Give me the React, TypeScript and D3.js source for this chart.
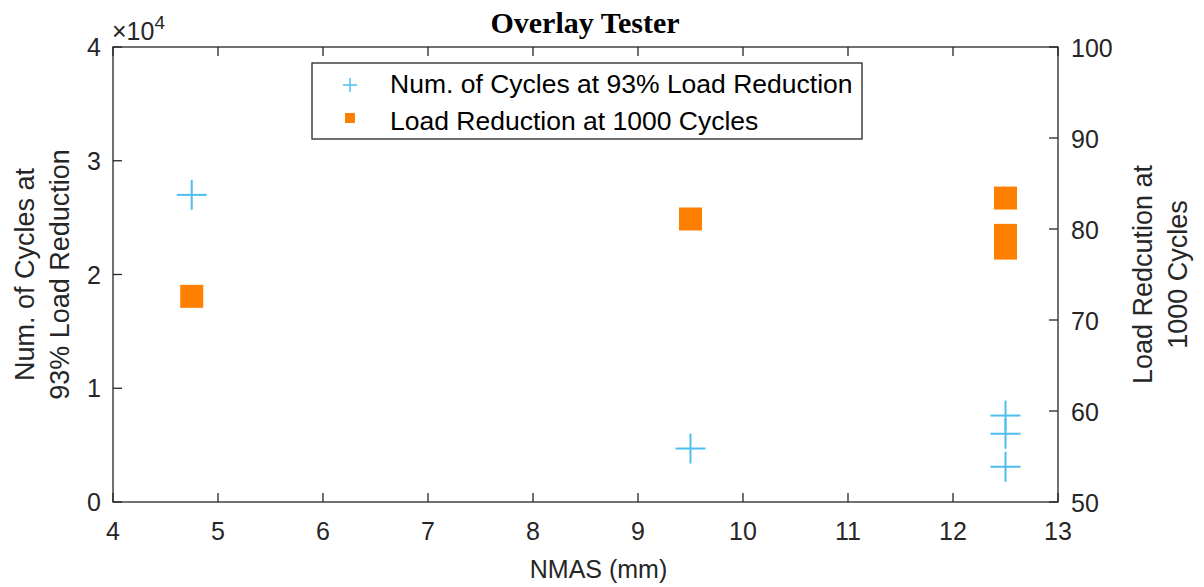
import React from "react";
import * as d3 from "d3";

// NMAS sizes (mm) for each mix
const nmasCycles = [4.75, 9.5, 12.5, 12.5, 12.5];
// Number of cycles to reach 93% load reduction
const cyclesAt93 = [27000, 4700, 7600, 6000, 3100];

const nmasLoad = [4.75, 9.5, 12.5, 12.5, 12.5];
// Load reduction (%) at 1000 cycles
const loadAt1000 = [72.6, 81.1, 83.4, 79.3, 77.9];

const xTicks = [4, 5, 6, 7, 8, 9, 10, 11, 12, 13];
const yLeftTicks = [0, 1, 2, 3, 4];
const yRightTicks = [50, 60, 70, 80, 90, 100];

const W = 1204;
const H = 587;
const M = { left: 113, right: 1058, top: 47, bottom: 502 };

const AXIS = "#262626";
const BLUE = "#4DBEEE";
const ORANGE = "#FF7F00";
const SANS = "'Liberation Sans', Arial, sans-serif";
const SERIF = "'Liberation Serif', 'Times New Roman', serif";

export default function App() {
  const x = d3.scaleLinear().domain([4, 13]).range([M.left, M.right]);
  const yL = d3.scaleLinear().domain([0, 40000]).range([M.bottom, M.top]);
  const yR = d3.scaleLinear().domain([50, 100]).range([M.bottom, M.top]);
  const tick = 9;
  const plus = 15;
  const sq = 11.5;
  const tickFont = 25;
  const labelFont = 27;
  const legendFont = 26.5;

  return (
    <svg
      width={W}
      height={H}
      style={{ position: "absolute", left: 0, top: 0, background: "#fff" }}
      fontFamily={SANS}
    >
      {/* title */}
      <text x={585} y={33} textAnchor="middle" fontFamily={SERIF} fontWeight="bold" fontSize={30} fill="#000">
        Overlay Tester
      </text>

      {/* exponent label */}
      <text x={112} y={40} fontSize={25} fill={AXIS}>
        ×10
        <tspan dy={-11} fontSize={19}>4</tspan>
      </text>

      {/* axes box */}
      <rect
        x={M.left}
        y={M.top}
        width={M.right - M.left}
        height={M.bottom - M.top}
        fill="none"
        stroke={AXIS}
        strokeWidth={1.3}
      />

      {/* x ticks */}
      {xTicks.map((t) => (
        <g key={"x" + t}>
          <line x1={x(t)} x2={x(t)} y1={M.bottom} y2={M.bottom - tick} stroke={AXIS} strokeWidth={1.3} />
          <line x1={x(t)} x2={x(t)} y1={M.top} y2={M.top + tick} stroke={AXIS} strokeWidth={1.3} />
          <text x={x(t)} y={M.bottom + 38} textAnchor="middle" fontSize={tickFont} fill={AXIS}>
            {t}
          </text>
        </g>
      ))}

      {/* left ticks */}
      {yLeftTicks.map((t) => (
        <g key={"yl" + t}>
          <line x1={M.left} x2={M.left + tick} y1={yL(t * 10000)} y2={yL(t * 10000)} stroke={AXIS} strokeWidth={1.3} />
          <text x={M.left - 12} y={yL(t * 10000) + 9} textAnchor="end" fontSize={tickFont} fill={AXIS}>
            {t}
          </text>
        </g>
      ))}

      {/* right ticks */}
      {yRightTicks.map((t) => (
        <g key={"yr" + t}>
          <line x1={M.right} x2={M.right - tick} y1={yR(t)} y2={yR(t)} stroke={AXIS} strokeWidth={1.3} />
          <text x={M.right + 13} y={yR(t) + 10} textAnchor="start" fontSize={tickFont} fill={AXIS}>
            {t}
          </text>
        </g>
      ))}

      {/* axis labels */}
      <text x={(M.left + M.right) / 2 + 13} y={578} textAnchor="middle" fontSize={tickFont} fill={AXIS}>
        NMAS (mm)
      </text>
      <g transform={`translate(25, ${(M.top + M.bottom) / 2}) rotate(-90)`}>
        <text x={0} y={9} textAnchor="middle" fontSize={labelFont} fill={AXIS}>
          Num. of Cycles at
        </text>
        <text x={0} y={44} textAnchor="middle" fontSize={labelFont} fill={AXIS}>
          93% Load Reduction
        </text>
      </g>
      <g transform={`translate(1143, ${(M.top + M.bottom) / 2}) rotate(-90)`}>
        <text x={0} y={9} textAnchor="middle" fontSize={labelFont} fill={AXIS}>
          Load Redcution at
        </text>
        <text x={0} y={44} textAnchor="middle" fontSize={labelFont} fill={AXIS}>
          1000 Cycles
        </text>
      </g>

      {/* load reduction squares */}
      {nmasLoad.map((n, i) => (
        <rect
          key={"s" + i}
          x={x(n) - sq}
          y={yR(loadAt1000[i]) - sq}
          width={sq * 2}
          height={sq * 2}
          fill={ORANGE}
        />
      ))}

      {/* cycles pluses */}
      {nmasCycles.map((n, i) => {
        const cx = x(n);
        const cy = yL(cyclesAt93[i]);
        return (
          <g key={"p" + i} stroke={BLUE} strokeWidth={2}>
            <line x1={cx - plus} x2={cx + plus} y1={cy} y2={cy} />
            <line x1={cx} x2={cx} y1={cy - plus} y2={cy + plus} />
          </g>
        );
      })}

      {/* legend */}
      <g>
        <rect x={312} y={63} width={550} height={76} fill="#fff" stroke={AXIS} strokeWidth={1.3} />
        <g stroke={BLUE} strokeWidth={1.5}>
          <line x1={343} x2={357} y1={85} y2={85} />
          <line x1={350} x2={350} y1={78} y2={92} />
        </g>
        <rect x={345} y={113} width={10} height={10} fill={ORANGE} />
        <text x={390} y={93} fontSize={legendFont} fill="#000">
          Num. of Cycles at 93% Load Reduction
        </text>
        <text x={390} y={130} fontSize={legendFont} fill="#000">
          Load Reduction at 1000 Cycles
        </text>
      </g>
    </svg>
  );
}
